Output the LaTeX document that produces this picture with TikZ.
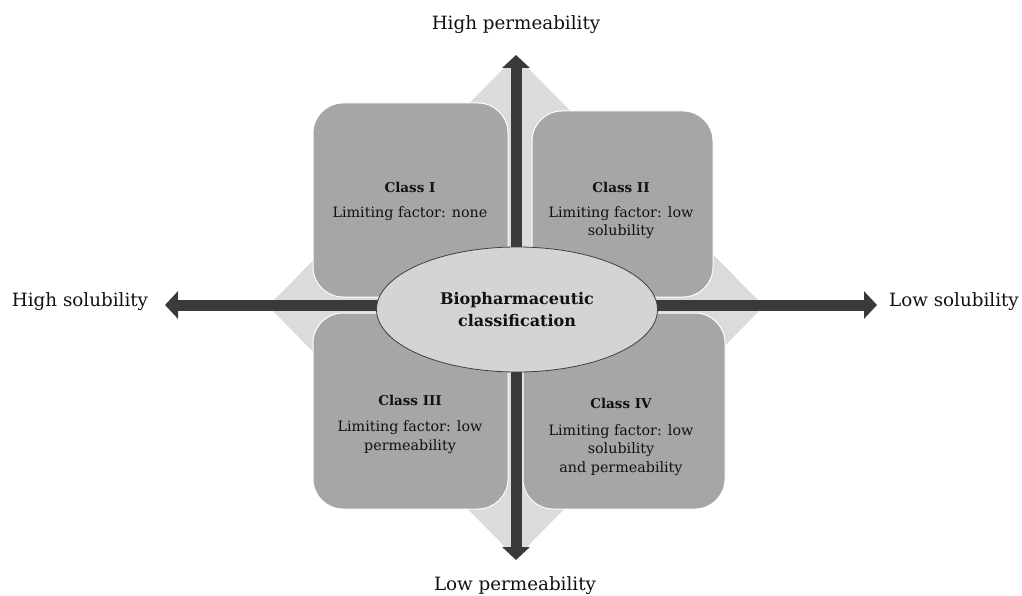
\documentclass[tikz,border=0pt]{standalone}
\usepackage{fontspec}
\setmainfont{DejaVu Serif}
\usetikzlibrary{arrows.meta,shapes.geometric}
\definecolor{boxgray}{HTML}{A6A6A6}
\definecolor{diamgray}{HTML}{DBDBDB}
\definecolor{ellgray}{HTML}{D4D4D4}
\definecolor{arrowgray}{HTML}{3A3A3A}
\definecolor{textgray}{HTML}{111111}
\begin{document}
\begin{tikzpicture}[x=1pt,y=-1pt,
  quad/.style={draw=white, line width=1pt, fill=boxgray, rounded corners=30pt, inner sep=0pt},
  axislabel/.style={font=\fontsize{18.3}{22}\selectfont, text=textgray, inner sep=0pt, anchor=base},
  ctitle/.style={font=\fontsize{13.5}{16}\selectfont\bfseries, text=textgray, inner sep=0pt, anchor=base},
  cbody/.style={font=\fontsize{14.3}{18.5}\selectfont, text=textgray, align=center, inner sep=0pt, anchor=base},
  axisarrow/.style={draw=arrowgray, line width=11pt, {Triangle[width=27pt,length=13pt]}-{Triangle[width=27pt,length=13pt]}}
]
\useasboundingbox (0,0) rectangle (1022,596);
% background diamond
\fill[diamgray] (516,56) -- (764,306) -- (516,558) -- (268,306) -- cycle;
% quadrant boxes
\node[quad, minimum width=195pt, minimum height=194pt] (q1) at (410.5,200) {};
\node[quad, minimum width=181pt, minimum height=186pt] (q2) at (622.5,204) {};
\node[quad, minimum width=195pt, minimum height=196pt] (q3) at (410.5,411) {};
\node[quad, minimum width=202pt, minimum height=196pt] (q4) at (624,411) {};
% texts (multi-line nodes: base = baseline of last line)
\node[ctitle] (t1) at (410,193) {Class I};
\node[cbody] (b1) at (410,217) {Limiting factor: none};
\node[ctitle] (t2) at (621,193) {Class II};
\node[cbody] (b2) at (621,235.5) {Limiting factor: low\\solubility};
\node[ctitle] (t3) at (410,405) {Class III};
\node[cbody] (b3) at (410,450) {Limiting factor: low\\permeability};
\node[ctitle] (t4) at (621,408) {Class IV};
\node[cbody] (b4) at (621,472) {Limiting factor: low\\solubility\\and permeability};
% axes
\coordinate (hL) at (165,305);
\coordinate (hR) at (877,305);
\coordinate (vT) at (516,55);
\coordinate (vB) at (516,560);
\draw[axisarrow] (hL) -- (hR);
\draw[axisarrow] (vT) -- (vB);
% center ellipse
\node[ellipse, draw=black!75, line width=0.8pt, fill=ellgray, minimum width=281pt, minimum height=125pt, inner sep=0pt,
      text=textgray, font=\fontsize{16}{22}\selectfont\bfseries, align=center] (bcs) at (517,309.5) {Biopharmaceutic\\classification};
% axis labels
\node[axislabel] (hs) at (80,306) {High solubility};
\node[axislabel] (ls) at (954,306) {Low solubility};
\node[axislabel] (hp) at (516,30) {High permeability};
\node[axislabel] (lp) at (515,590) {Low permeability};
\end{tikzpicture}
\end{document}
